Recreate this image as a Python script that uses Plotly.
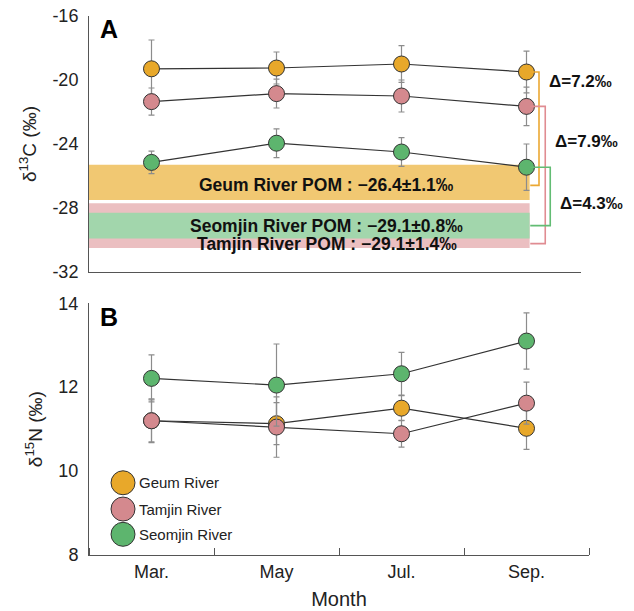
import plotly.graph_objects as go

# ---------------- data ----------------
months = ["Mar.", "May", "Jul.", "Sep."]
rivers = ["Geum River", "Tamjin River", "Seomjin River"]

geum_c13 = [-19.3, -19.25, -19.0, -19.5]
tamjin_c13 = [-21.35, -20.85, -21.0, -21.65]
seomjin_c13 = [-25.15, -23.95, -24.5, -25.45]
geum_c13_sd = [1.8, 1.0, 1.15, 1.3]
tamjin_c13_sd = [0.85, 0.9, 1.0, 1.2]
seomjin_c13_sd = [0.7, 0.9, 0.9, 1.45]

geum_n15 = [11.2, 11.13, 11.5, 11.02]
tamjin_n15 = [11.2, 11.05, 10.89, 11.62]
seomjin_n15 = [12.21, 12.05, 12.32, 13.1]
geum_n15_sd = [0.52, 0.5, 0.3, 0.5]
tamjin_n15_sd = [0.5, 0.72, 0.32, 0.5]
seomjin_n15_sd = [0.56, 0.98, 0.51, 0.67]

pom_names = ["Geum River", "Tamjin River", "Seomjin River"]
pom_mean = [-26.4, -29.1, -29.1]
pom_sd = [1.1, 1.4, 0.8]
delta_labels = ["Δ=7.2‰", "Δ=7.9‰", "Δ=4.3‰"]

y_ticks_c = [-32, -28, -24, -20, -16]
y_ticks_n = [8, 10, 12, 14]

# ---------------- styles ----------------
marker_colors = ["#E8A82A", "#D4898E", "#5DB56E"]
band_colors = ["#F1C872", "#EBBFC1", "#A2D6AC"]
bracket_colors = ["#EBA833", "#E08C92", "#62BC73"]
FONT = "Arial, Liberation Sans, sans-serif"

c13 = [geum_c13, tamjin_c13, seomjin_c13]
c13_sd = [geum_c13_sd, tamjin_c13_sd, seomjin_c13_sd]
n15 = [geum_n15, tamjin_n15, seomjin_n15]
n15_sd = [geum_n15_sd, tamjin_n15_sd, seomjin_n15_sd]
xpos = list(range(len(months)))

fig = go.Figure()

for i, r in enumerate(rivers):
    for vals, sds, xa, ya in [(c13[i], c13_sd[i], "x", "y"), (n15[i], n15_sd[i], "x2", "y2")]:
        fig.add_trace(go.Scatter(
            x=xpos, y=vals, xaxis=xa, yaxis=ya, name=r, showlegend=False,
            mode="lines+markers",
            line=dict(color="#333333", width=1.2),
            marker=dict(size=16, color=marker_colors[i], line=dict(color="#333333", width=1)),
            error_y=dict(type="data", array=sds, visible=True, color="#8C8C8C",
                         thickness=1.2, width=3),
            cliponaxis=False,
        ))

shapes = []
annotations = []

# POM bands (Tamjin first, then Seomjin, then Geum)
band_x0, band_x1 = -0.5, 3.025
for idx in [1, 2, 0]:
    shapes.append(dict(type="rect", xref="x", yref="y", x0=band_x0, x1=band_x1,
                       y0=pom_mean[idx] - pom_sd[idx], y1=pom_mean[idx] + pom_sd[idx],
                       fillcolor=band_colors[idx], line=dict(width=0), layer="below"))

label_shift = [-3, -18, 0]
for idx in range(3):
    txt = f"{pom_names[idx]} POM : \u2212{abs(pom_mean[idx]):.1f}\u00b1{pom_sd[idx]:.1f}\u2030"
    annotations.append(dict(x=1.4, y=pom_mean[idx], xref="x", yref="y", text=f"<b>{txt}</b>",
                            showarrow=False, yshift=label_shift[idx], borderpad=0,
                            xanchor="center", yanchor="middle",
                            font=dict(family=FONT, size=17.5, color="#111111")))

# brackets
bx_start = 3.03
bx_vert = [3.10, 3.15, 3.19]
for idx in range(3):
    top = c13[idx][-1]
    bottom = pom_mean[idx] + label_shift[idx] / 16.0
    path = (f"M {bx_start},{top} L {bx_vert[idx]},{top} L {bx_vert[idx]},{bottom} "
            f"L {bx_start},{bottom}")
    shapes.append(dict(type="path", xref="x", yref="y", path=path,
                       line=dict(color=bracket_colors[idx], width=1.6)))

delta_pos = [(3.165, -20.1), (3.21, -23.85), (3.255, -27.7)]
for idx in range(3):
    annotations.append(dict(x=delta_pos[idx][0], y=delta_pos[idx][1], xref="x", yref="y",
                            xanchor="left", yanchor="middle",
                            text=f"<b>{delta_labels[idx]}</b>", showarrow=False,
                            font=dict(family=FONT, size=17, color="#111111")))

# panel letters
annotations.append(dict(x=0.04, y=0.976, xref="paper", yref="paper", text="<b>A</b>",
                        xanchor="center", yanchor="middle",
                        showarrow=False, font=dict(family=FONT, size=25, color="black")))
annotations.append(dict(x=0.04, y=0.442, xref="paper", yref="paper", text="<b>B</b>",
                        xanchor="center", yanchor="middle",
                        showarrow=False, font=dict(family=FONT, size=25, color="black")))

# custom legend
leg_y = [0.134, 0.0853, 0.0384]
for i, r in enumerate(rivers):
    shapes.append(dict(type="circle", xref="paper", yref="paper", xsizemode="pixel",
                       ysizemode="pixel", xanchor=0.068, yanchor=leg_y[i],
                       x0=-12, x1=12, y0=-12, y1=12, fillcolor=marker_colors[i],
                       line=dict(color="#333333", width=1)))
    annotations.append(dict(x=0.098, y=leg_y[i], xref="paper", yref="paper",
                            xanchor="left", yanchor="middle",
                            text=r, showarrow=False, borderpad=0,
                            font=dict(family=FONT, size=15, color="#222222")))

axis_common = dict(showline=True, linecolor="#555555", linewidth=1, showgrid=False,
                   zeroline=False, automargin=False)

fig.update_layout(
    width=634, height=611,
    margin=dict(l=89, r=45, t=16, b=56),
    paper_bgcolor="white", plot_bgcolor="white",
    font=dict(family=FONT, color="#222222"),
    showlegend=False,
    shapes=shapes, annotations=annotations,
    xaxis=dict(domain=[0, 0.984], range=[-0.5, 3.436], anchor="y",
               showticklabels=False, ticks="", **axis_common),
    yaxis=dict(domain=[0.525, 1.0], range=[-32, -16], anchor="x",
               tickvals=y_ticks_c, ticktext=[str(v) for v in y_ticks_c], ticks="",
               ticklabelstandoff=6, ticklabeloverflow="allow", tickfont=dict(size=18),
               title=dict(text="\u03b4<sup>13</sup>C (\u2030)", font=dict(size=19), standoff=10),
               **axis_common),
    xaxis2=dict(domain=[0, 1], range=[-0.5, 3.5], anchor="y2",
                tickvals=xpos, ticktext=months, ticks="", tickfont=dict(size=18),
                minor=dict(ticks="inside", ticklen=7, tick0=-0.5, dtick=1,
                           tickcolor="#555555", tickwidth=1, showgrid=False),
                title=dict(text="Month", font=dict(size=20), standoff=11),
                **axis_common),
    yaxis2=dict(domain=[0, 0.467], range=[8, 14], anchor="x2",
                tickvals=y_ticks_n, ticks="", ticklabelstandoff=6, tickfont=dict(size=18),
                title=dict(text="\u03b4<sup>15</sup>N (\u2030)", font=dict(size=19), standoff=10),
                **axis_common),
)

fig.write_html("out.html",
               config={"displayModeBar": False},
               post_script="document.body.style.margin='0px';document.body.style.overflow='hidden';")
